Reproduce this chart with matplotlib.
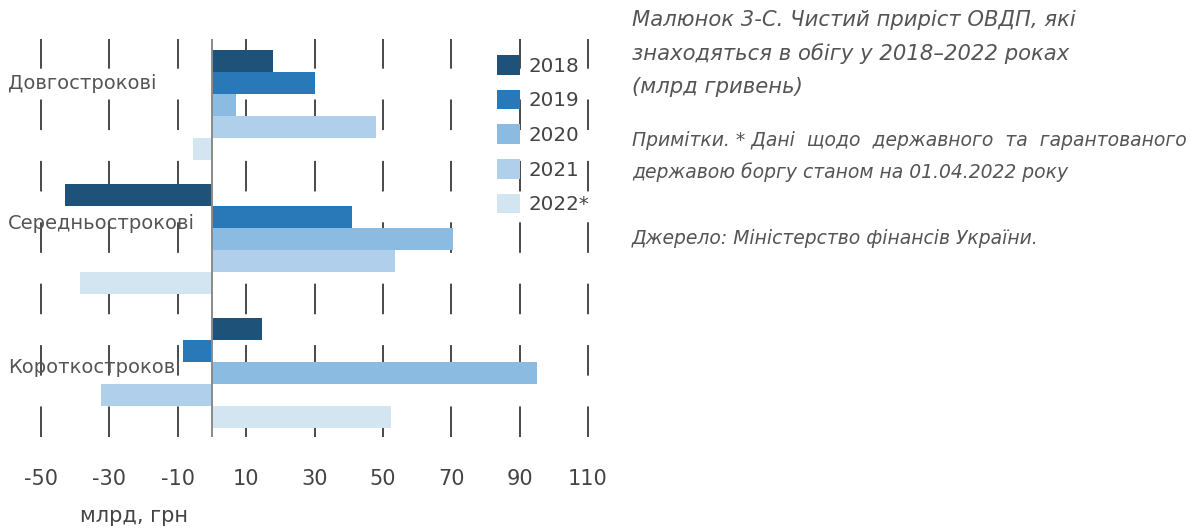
import numpy as np
import matplotlib
matplotlib.use("Agg")
import matplotlib.pyplot as plt
from matplotlib.transforms import blended_transform_factory

plt.rcParams["font.family"] = ["DejaVu Sans"]
plt.rcParams["lines.scale_dashes"] = False

# data (млрд грн)
categories = ["Довгострокові", "Середньострокові", "Короткострокові"]
years = ["2018", "2019", "2020", "2021", "2022*"]
v2018 = [18, -43, 14.5]
v2019 = [30, 41, -8.5]
v2020 = [7, 70.5, 95]
v2021 = [48, 53.5, -32.5]
v2022 = [-5.5, -38.5, 52.5]
series = [v2018, v2019, v2020, v2021, v2022]
colors = ["#1f5279", "#2979b9", "#8bbbe1", "#afcfeb", "#d2e5f0"]
xticks = [-50, -30, -10, 10, 30, 50, 70, 90, 110]

W, H = 1201, 529
fig = plt.figure(figsize=(W / 100, H / 100), dpi=100)
ax = fig.add_axes([24 / W, (H - 437) / H, (605 - 24) / W, (437 - 39) / H])

bar_h = 0.164
y = np.arange(len(categories))
for k, (vals, col, lab) in enumerate(zip(series, colors, years)):
    ax.barh(y + (k - 2) * bar_h, vals, height=bar_h, color=col, label=lab, zorder=2)

ax.axvline(0, color="#8a8a8a", lw=1.4, zorder=4)

ax.set_xlim(-55, 115)
ax.set_ylim(2.48, -0.49)
ax.set_xticks(xticks)
ax.set_xticklabels([str(t) for t in xticks])
ax.set_yticks([])
ax.tick_params(axis="x", length=0, pad=23, labelsize=15, labelcolor="#444444")
ax.grid(axis="x", color="#3a3a3a", lw=1.3, linestyle=(0, (22, 22.2)), zorder=1)
for s in ax.spines.values():
    s.set_visible(False)

# category labels, left aligned at the figure edge
label_shift = [-0.16, -0.11, -0.04]
trans = blended_transform_factory(fig.transFigure, ax.transData)
for i, cat in enumerate(categories):
    ax.text(8 / W, i + label_shift[i], cat, transform=trans,
            ha="left", va="center", fontsize=14, color="#555555", zorder=5)

leg = ax.legend(loc="upper left", bbox_to_anchor=(497 / W, 1 - 55 / H), bbox_transform=fig.transFigure,
                frameon=False, fontsize=14.3, handlelength=1.15, handleheight=1.15,
                handletextpad=0.45, labelspacing=0.71, borderpad=0, borderaxespad=0)
for t in leg.get_texts():
    t.set_color("#444444")

fig.text(80 / W, 1 - 516 / H, "млрд, грн", ha="left", va="center", fontsize=15, color="#444444")

tc = "#555555"
fig.text(632 / W, 1 - 20 / H, "Малюнок 3-С. Чистий приріст ОВДП, які", fontsize=15.2, style="italic", color=tc, va="center")
fig.text(632 / W, 1 - 54 / H, "знаходяться в обігу у 2018–2022 роках", fontsize=15.2, style="italic", color=tc, va="center")
fig.text(632 / W, 1 - 87 / H, "(млрд гривень)", fontsize=15.2, style="italic", color=tc, va="center")
fig.text(632 / W, 1 - 140 / H, "Примітки. * Дані  щодо  державного  та  гарантованого", fontsize=13.5, style="italic", color=tc, va="center")
fig.text(632 / W, 1 - 172 / H, "державою боргу станом на 01.04.2022 року", fontsize=13.5, style="italic", color=tc, va="center")
fig.text(632 / W, 1 - 238 / H, "Джерело: Міністерство фінансів України.", fontsize=13.5, style="italic", color=tc, va="center")

fig.savefig("out.png", dpi=100)
